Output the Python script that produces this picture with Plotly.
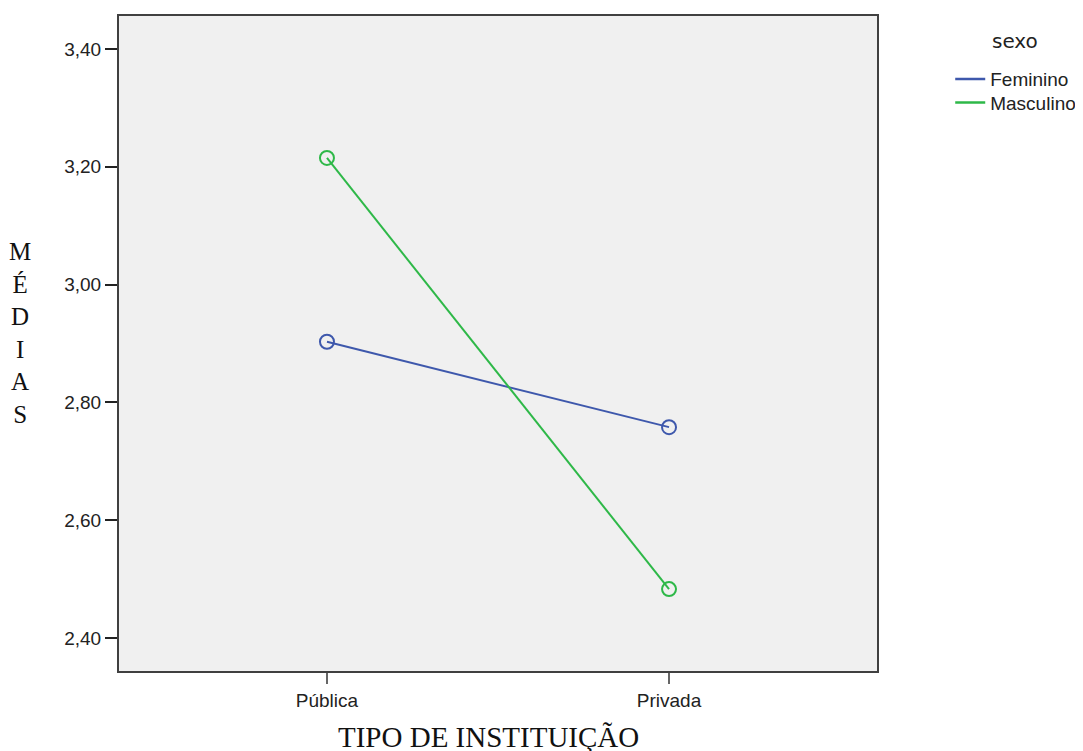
import plotly.graph_objects as go

categories = ["Pública", "Privada"]
series_names = ["Feminino", "Masculino"]
feminino = [2.903, 2.758]
masculino = [3.215, 2.483]
y_ticks = [2.40, 2.60, 2.80, 3.00, 3.20, 3.40]
colors = {"Feminino": "#3E58AC", "Masculino": "#2EB848"}

x_pos = list(range(len(categories)))
values = {"Feminino": feminino, "Masculino": masculino}
legend_ids = {"Feminino": "legend", "Masculino": "legend2"}

fig = go.Figure()
for name in series_names:
    fig.add_trace(go.Scatter(
        x=x_pos, y=values[name], mode="lines+markers", name=name,
        line=dict(color=colors[name], width=2),
        marker=dict(symbol="circle-open", size=14, color=colors[name],
                    line=dict(width=2, color=colors[name])),
        showlegend=False,
    ))
for name in series_names:
    fig.add_trace(go.Scatter(
        x=[None], y=[None], mode="lines", name=name,
        line=dict(color=colors[name], width=2.5),
        showlegend=True, legend=legend_ids[name],
    ))

legend_common = dict(xanchor="left", yanchor="top",
                     font=dict(size=19, color="#222222"),
                     itemwidth=30, bgcolor="rgba(0,0,0,0)")

fig.update_layout(
    width=1083, height=751,
    margin=dict(l=111, r=214, t=6, b=88),
    plot_bgcolor="#F0F0F0", paper_bgcolor="white",
    separators=",.",
    font=dict(family="Liberation Sans, Arial", size=19, color="#222222"),
    showlegend=True,
    legend=dict(x=1.0966, y=0.9326, **legend_common),
    legend2=dict(x=1.0966, y=0.8966, **legend_common),
    xaxis=dict(range=[-0.608, 1.608], tickvals=x_pos, ticktext=categories,
               showgrid=False, zeroline=False, showline=True, mirror=True,
               linecolor="#404040", linewidth=2, ticks="outside", ticklen=11,
               tickwidth=2, tickcolor="#666666"),
    yaxis=dict(range=[2.344, 3.456], tickvals=y_ticks, tickformat=".2f",
               showgrid=False, zeroline=False, showline=True, mirror=True,
               linecolor="#404040", linewidth=2, ticks="outside", ticklen=12,
               tickwidth=2, tickcolor="#222222"),
    annotations=[
        dict(text="sexo", xref="paper", yref="paper", x=1.182, y=0.9616,
             xanchor="center", yanchor="middle", showarrow=False,
             font=dict(family="DejaVu Sans", size=20, color="#222222")),
        dict(text="TIPO DE INSTITUIÇÃO", xref="paper", yref="paper",
             x=0.488, y=-0.100, xanchor="center", yanchor="middle",
             showarrow=False,
             font=dict(family="Liberation Serif, Times New Roman", size=29,
                       color="#111111")),
        dict(text="M<br>É<br>D<br>I<br>A<br>S", xref="paper", yref="paper",
             x=-0.1306, y=0.516, xanchor="center", yanchor="middle",
             showarrow=False, align="center",
             font=dict(family="Liberation Serif, Times New Roman", size=25,
                       color="#111111")),
    ],
)

fig.write_html("out.html")
